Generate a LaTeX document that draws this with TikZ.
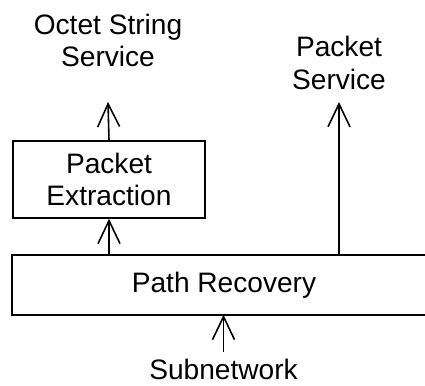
\documentclass[tikz,border=0pt]{standalone}
\usepackage{fontspec}
\setmainfont{Liberation Sans}
\usetikzlibrary{arrows.meta}
\begin{document}
\begin{tikzpicture}[font=\fontsize{16}{18.5}\selectfont, line width=0.9pt,
  layer/.style={inner sep=0pt, align=center},
  up/.style={-{Straight Barb[length=0.46cm,width=0.44cm,line width=0.9pt]}}]
\useasboundingbox (0,0) rectangle (8.5,7.7);

\node[layer, draw, minimum width=3.84cm, minimum height=1.54cm] (pe) at (2.18,4.11) {Packet\\Extraction};
\node[layer, minimum width=8.44cm, minimum height=1.16cm] (pr) at (4.48,2.0) {Path Recovery};
\node[layer] (octet) at (2.16,6.89) {Octet String\\Service};
\node[layer] (packet) at (6.78,6.44) {Packet\\Service};
\node[layer] (subnet) at (4.47,0.31) {Subnetwork};

\coordinate (edge) at (8.5,0);
\coordinate (octip) at (2.16,5.66);
\coordinate (pstip) at (6.78,5.66);
\coordinate (pstail) at (6.78,2.58);
\coordinate (subtail) at (4.47,0.66);

% open box, cut at the right edge
\path[draw] (pr.north west -| edge) -- (pr.north west) -- (pr.south west) -- (pr.south west -| edge);

\path[draw,up] (pe.north) -- (octip);
\path[draw,up] (pe.south |- pr.north) -- (pe.south);
\path[draw,up] (pstail) -- (pstip);
\path[draw,up] (subtail) -- (subnet.north |- pr.south);
\end{tikzpicture}
\end{document}
